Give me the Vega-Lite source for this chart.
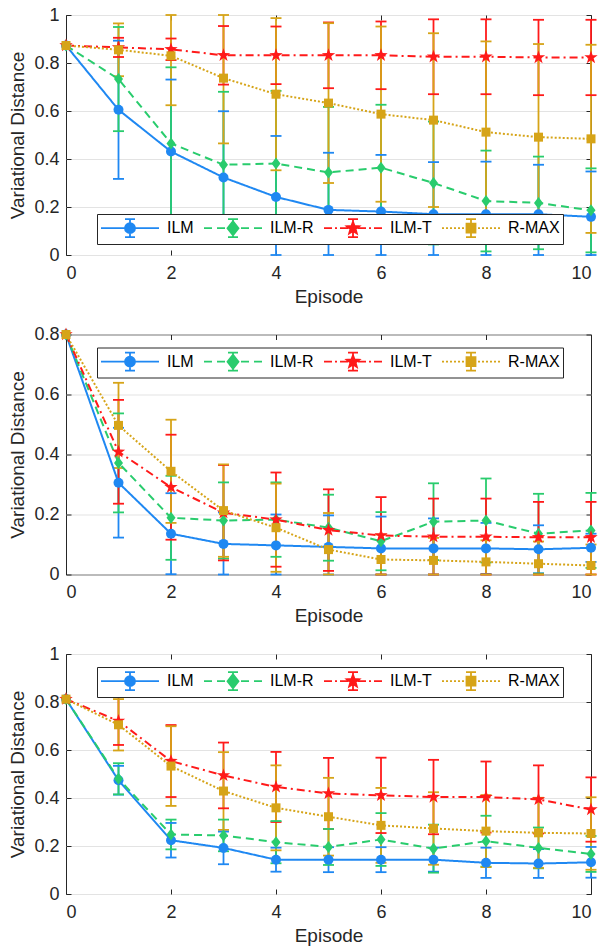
{
"$schema": "https://vega.github.io/schema/vega-lite/v6.json",
"datasets": {
"p1": [
{"s":"ILM","ep":0,"m":0.873,"lo":null,"hi":null},{"s":"ILM","ep":1,"m":0.605,"lo":0.317,"hi":0.893},{"s":"ILM","ep":2,"m":0.431,"lo":0.131,"hi":0.731},{"s":"ILM","ep":3,"m":0.323,"lo":0.047,"hi":0.599},{"s":"ILM","ep":4,"m":0.242,"lo":0,"hi":0.496},{"s":"ILM","ep":5,"m":0.188,"lo":0,"hi":0.426},{"s":"ILM","ep":6,"m":0.181,"lo":0,"hi":0.417},{"s":"ILM","ep":7,"m":0.17,"lo":0,"hi":0.387},{"s":"ILM","ep":8,"m":0.17,"lo":0,"hi":0.389},{"s":"ILM","ep":9,"m":0.17,"lo":0,"hi":0.376},{"s":"ILM","ep":10,"m":0.159,"lo":0,"hi":0.348},
{"s":"ILM-R","ep":0,"m":0.873,"lo":null,"hi":null},{"s":"ILM-R","ep":1,"m":0.733,"lo":0.516,"hi":0.95},{"s":"ILM-R","ep":2,"m":0.465,"lo":0.148,"hi":0.782},{"s":"ILM-R","ep":3,"m":0.376,"lo":0.072,"hi":0.68},{"s":"ILM-R","ep":4,"m":0.381,"lo":0.078,"hi":0.684},{"s":"ILM-R","ep":5,"m":0.344,"lo":0.071,"hi":0.617},{"s":"ILM-R","ep":6,"m":0.364,"lo":0.102,"hi":0.626},{"s":"ILM-R","ep":7,"m":0.3,"lo":0.044,"hi":0.556},{"s":"ILM-R","ep":8,"m":0.225,"lo":0.015,"hi":0.435},{"s":"ILM-R","ep":9,"m":0.217,"lo":0.024,"hi":0.41},{"s":"ILM-R","ep":10,"m":0.186,"lo":0.011,"hi":0.361},
{"s":"ILM-T","ep":0,"m":0.873,"lo":null,"hi":null},{"s":"ILM-T","ep":1,"m":0.865,"lo":0.825,"hi":0.905},{"s":"ILM-T","ep":2,"m":0.857,"lo":0.812,"hi":0.902},{"s":"ILM-T","ep":3,"m":0.832,"lo":0.71,"hi":0.954},{"s":"ILM-T","ep":4,"m":0.832,"lo":0.712,"hi":0.952},{"s":"ILM-T","ep":5,"m":0.832,"lo":0.695,"hi":0.969},{"s":"ILM-T","ep":6,"m":0.832,"lo":0.691,"hi":0.973},{"s":"ILM-T","ep":7,"m":0.826,"lo":0.67,"hi":0.982},{"s":"ILM-T","ep":8,"m":0.826,"lo":0.67,"hi":0.982},{"s":"ILM-T","ep":9,"m":0.823,"lo":0.666,"hi":0.98},{"s":"ILM-T","ep":10,"m":0.823,"lo":0.666,"hi":0.98},
{"s":"R-MAX","ep":0,"m":0.873,"lo":null,"hi":null},{"s":"R-MAX","ep":1,"m":0.855,"lo":0.745,"hi":0.965},{"s":"R-MAX","ep":2,"m":0.83,"lo":0.624,"hi":1.0},{"s":"R-MAX","ep":3,"m":0.737,"lo":0.465,"hi":1.0},{"s":"R-MAX","ep":4,"m":0.67,"lo":0.353,"hi":0.987},{"s":"R-MAX","ep":5,"m":0.633,"lo":0.3,"hi":0.966},{"s":"R-MAX","ep":6,"m":0.587,"lo":0.222,"hi":0.952},{"s":"R-MAX","ep":7,"m":0.562,"lo":0.2,"hi":0.924},{"s":"R-MAX","ep":8,"m":0.512,"lo":0.134,"hi":0.89},{"s":"R-MAX","ep":9,"m":0.491,"lo":0.103,"hi":0.879},{"s":"R-MAX","ep":10,"m":0.484,"lo":0.092,"hi":0.876}
],
"p2": [
{"s":"ILM","ep":0,"m":0.8,"lo":null,"hi":null},{"s":"ILM","ep":1,"m":0.306,"lo":0.123,"hi":0.489},{"s":"ILM","ep":2,"m":0.136,"lo":0.001,"hi":0.271},{"s":"ILM","ep":3,"m":0.102,"lo":0,"hi":0.207},{"s":"ILM","ep":4,"m":0.097,"lo":0,"hi":0.2},{"s":"ILM","ep":5,"m":0.092,"lo":0,"hi":0.197},{"s":"ILM","ep":6,"m":0.087,"lo":0,"hi":0.193},{"s":"ILM","ep":7,"m":0.087,"lo":0,"hi":0.187},{"s":"ILM","ep":8,"m":0.087,"lo":0.002,"hi":0.172},{"s":"ILM","ep":9,"m":0.084,"lo":0.004,"hi":0.164},{"s":"ILM","ep":10,"m":0.089,"lo":0.042,"hi":0.136},
{"s":"ILM-R","ep":0,"m":0.8,"lo":null,"hi":null},{"s":"ILM-R","ep":1,"m":0.372,"lo":0.207,"hi":0.537},{"s":"ILM-R","ep":2,"m":0.189,"lo":0.049,"hi":0.329},{"s":"ILM-R","ep":3,"m":0.18,"lo":0.053,"hi":0.307},{"s":"ILM-R","ep":4,"m":0.183,"lo":0.059,"hi":0.307},{"s":"ILM-R","ep":5,"m":0.156,"lo":0.046,"hi":0.266},{"s":"ILM-R","ep":6,"m":0.111,"lo":0.014,"hi":0.208},{"s":"ILM-R","ep":7,"m":0.176,"lo":0.048,"hi":0.304},{"s":"ILM-R","ep":8,"m":0.18,"lo":0.04,"hi":0.32},{"s":"ILM-R","ep":9,"m":0.136,"lo":0.003,"hi":0.269},{"s":"ILM-R","ep":10,"m":0.147,"lo":0.022,"hi":0.272},
{"s":"ILM-T","ep":0,"m":0.8,"lo":null,"hi":null},{"s":"ILM-T","ep":1,"m":0.409,"lo":0.236,"hi":0.582},{"s":"ILM-T","ep":2,"m":0.291,"lo":0.116,"hi":0.466},{"s":"ILM-T","ep":3,"m":0.206,"lo":0.047,"hi":0.365},{"s":"ILM-T","ep":4,"m":0.183,"lo":0.026,"hi":0.34},{"s":"ILM-T","ep":5,"m":0.148,"lo":0.012,"hi":0.284},{"s":"ILM-T","ep":6,"m":0.13,"lo":0,"hi":0.258},{"s":"ILM-T","ep":7,"m":0.126,"lo":0,"hi":0.253},{"s":"ILM-T","ep":8,"m":0.126,"lo":0,"hi":0.253},{"s":"ILM-T","ep":9,"m":0.124,"lo":0,"hi":0.242},{"s":"ILM-T","ep":10,"m":0.124,"lo":0,"hi":0.242},
{"s":"R-MAX","ep":0,"m":0.8,"lo":null,"hi":null},{"s":"R-MAX","ep":1,"m":0.497,"lo":0.355,"hi":0.639},{"s":"R-MAX","ep":2,"m":0.344,"lo":0.172,"hi":0.516},{"s":"R-MAX","ep":3,"m":0.213,"lo":0.059,"hi":0.367},{"s":"R-MAX","ep":4,"m":0.156,"lo":0.009,"hi":0.303},{"s":"R-MAX","ep":5,"m":0.083,"lo":0,"hi":0.205},{"s":"R-MAX","ep":6,"m":0.05,"lo":0,"hi":0.133},{"s":"R-MAX","ep":7,"m":0.047,"lo":0,"hi":0.122},{"s":"R-MAX","ep":8,"m":0.042,"lo":0,"hi":0.114},{"s":"R-MAX","ep":9,"m":0.036,"lo":0,"hi":0.11},{"s":"R-MAX","ep":10,"m":0.03,"lo":0,"hi":0.1}
],
"p3": [
{"s":"ILM","ep":0,"m":0.812,"lo":null,"hi":null},{"s":"ILM","ep":1,"m":0.474,"lo":0.414,"hi":0.534},{"s":"ILM","ep":2,"m":0.224,"lo":0.152,"hi":0.296},{"s":"ILM","ep":3,"m":0.192,"lo":0.124,"hi":0.26},{"s":"ILM","ep":4,"m":0.143,"lo":0.093,"hi":0.193},{"s":"ILM","ep":5,"m":0.143,"lo":0.091,"hi":0.195},{"s":"ILM","ep":6,"m":0.143,"lo":0.091,"hi":0.195},{"s":"ILM","ep":7,"m":0.143,"lo":0.093,"hi":0.193},{"s":"ILM","ep":8,"m":0.13,"lo":0.067,"hi":0.193},{"s":"ILM","ep":9,"m":0.127,"lo":0.067,"hi":0.187},{"s":"ILM","ep":10,"m":0.132,"lo":0.068,"hi":0.196},
{"s":"ILM-R","ep":0,"m":0.812,"lo":null,"hi":null},{"s":"ILM-R","ep":1,"m":0.48,"lo":0.415,"hi":0.545},{"s":"ILM-R","ep":2,"m":0.248,"lo":0.186,"hi":0.31},{"s":"ILM-R","ep":3,"m":0.244,"lo":0.178,"hi":0.31},{"s":"ILM-R","ep":4,"m":0.216,"lo":0.128,"hi":0.304},{"s":"ILM-R","ep":5,"m":0.196,"lo":0.121,"hi":0.271},{"s":"ILM-R","ep":6,"m":0.227,"lo":0.117,"hi":0.337},{"s":"ILM-R","ep":7,"m":0.189,"lo":0.089,"hi":0.289},{"s":"ILM-R","ep":8,"m":0.22,"lo":0.114,"hi":0.326},{"s":"ILM-R","ep":9,"m":0.192,"lo":0.107,"hi":0.277},{"s":"ILM-R","ep":10,"m":0.167,"lo":0.092,"hi":0.242},
{"s":"ILM-T","ep":0,"m":0.812,"lo":null,"hi":null},{"s":"ILM-T","ep":1,"m":0.721,"lo":0.621,"hi":0.821},{"s":"ILM-T","ep":2,"m":0.554,"lo":0.404,"hi":0.704},{"s":"ILM-T","ep":3,"m":0.494,"lo":0.357,"hi":0.631},{"s":"ILM-T","ep":4,"m":0.446,"lo":0.3,"hi":0.592},{"s":"ILM-T","ep":5,"m":0.419,"lo":0.271,"hi":0.567},{"s":"ILM-T","ep":6,"m":0.411,"lo":0.254,"hi":0.568},{"s":"ILM-T","ep":7,"m":0.404,"lo":0.249,"hi":0.559},{"s":"ILM-T","ep":8,"m":0.404,"lo":0.256,"hi":0.552},{"s":"ILM-T","ep":9,"m":0.394,"lo":0.252,"hi":0.536},{"s":"ILM-T","ep":10,"m":0.352,"lo":0.218,"hi":0.486},
{"s":"R-MAX","ep":0,"m":0.812,"lo":null,"hi":null},{"s":"R-MAX","ep":1,"m":0.705,"lo":0.598,"hi":0.812},{"s":"R-MAX","ep":2,"m":0.533,"lo":0.367,"hi":0.699},{"s":"R-MAX","ep":3,"m":0.429,"lo":0.267,"hi":0.591},{"s":"R-MAX","ep":4,"m":0.359,"lo":0.182,"hi":0.536},{"s":"R-MAX","ep":5,"m":0.322,"lo":0.16,"hi":0.484},{"s":"R-MAX","ep":6,"m":0.286,"lo":0.13,"hi":0.442},{"s":"R-MAX","ep":7,"m":0.273,"lo":0.122,"hi":0.424},{"s":"R-MAX","ep":8,"m":0.262,"lo":0.112,"hi":0.412},{"s":"R-MAX","ep":9,"m":0.255,"lo":0.109,"hi":0.401},{"s":"R-MAX","ep":10,"m":0.252,"lo":0.101,"hi":0.403}
]
},
"padding": {"left": 8, "top": 5, "right": 2, "bottom": 2},
"spacing": 79.5,
"bounds": "flush",
"resolve": {
 "scale": {"color": "independent", "fill": "independent", "stroke": "independent", "shape": "independent", "strokeDash": "independent"},
 "legend": {"color": "independent", "fill": "independent", "stroke": "independent", "shape": "independent", "strokeDash": "independent"}
},
"vconcat": [
{
"data": {"name": "p1"},
"width": 525, "height": 240,
"layer": [
{"mark": {"type": "rule", "strokeWidth": 1.8},
 "encoding": {
  "x": {"field": "ep", "type": "quantitative", "scale": {"domain": [0, 10], "nice": false}, "axis": {"orient": "bottom", "values": [0, 2, 4, 6, 8, 10], "title": "Episode", "grid": false}},
  "y": {"field": "lo", "type": "quantitative", "scale": {"domain": [0, 1], "nice": false, "zero": false}, "axis": {"orient": "left", "values": [0, 0.2, 0.4, 0.6, 0.8, 1], "format": "~g", "title": "Variational Distance", "grid": true}},
  "y2": {"field": "hi"},
  "color": {"field": "s", "type": "nominal", "scale": {"domain": ["ILM", "ILM-R", "ILM-T", "R-MAX"], "range": ["#1f88f2", "#29cc6d", "#ff1a1a", "#d6a418"]}, "legend": null}}},
{"mark": {"type": "tick", "orient": "horizontal", "size": 11, "thickness": 1.8, "opacity": 1},
 "encoding": {"x": {"field": "ep", "type": "quantitative", "axis": null}, "y": {"field": "lo", "type": "quantitative", "axis": null}, "color": {"field": "s", "type": "nominal", "legend": null}}},
{"mark": {"type": "tick", "orient": "horizontal", "size": 11, "thickness": 1.8, "opacity": 1},
 "encoding": {"x": {"field": "ep", "type": "quantitative", "axis": null}, "y": {"field": "hi", "type": "quantitative", "axis": null}, "color": {"field": "s", "type": "nominal", "legend": null}}},
{"mark": {"type": "line", "strokeWidth": 2},
 "encoding": {
  "x": {"field": "ep", "type": "quantitative", "axis": {"orient": "top", "values": [0, 2, 4, 6, 8, 10], "labels": false, "title": null, "grid": false}},
  "y": {"field": "m", "type": "quantitative", "axis": {"orient": "right", "values": [0, 0.2, 0.4, 0.6, 0.8, 1], "labels": false, "title": null, "grid": false}},
  "color": {"field": "s", "type": "nominal", "legend": null},
  "strokeDash": {"field": "s", "type": "nominal", "scale": {"domain": ["ILM", "ILM-R", "ILM-T", "R-MAX"], "range": [[1, 0], [8, 5], [8, 4, 2, 4], [2, 2]]}, "legend": null}}},
{"transform": [{"filter": {"field": "s", "equal": "ILM"}}],
 "mark": {"type": "point", "shape": "circle", "filled": true, "size": 100, "opacity": 1},
 "encoding": {"x": {"field": "ep", "type": "quantitative", "axis": null}, "y": {"field": "m", "type": "quantitative", "axis": null}, "color": {"field": "s", "type": "nominal", "legend": null}}},
{"transform": [{"filter": {"field": "s", "equal": "ILM-R"}}],
 "mark": {"type": "point", "shape": "M0,-1L0.75,0L0,1L-0.75,0Z", "filled": true, "size": 144, "opacity": 1},
 "encoding": {"x": {"field": "ep", "type": "quantitative", "axis": null}, "y": {"field": "m", "type": "quantitative", "axis": null}, "color": {"field": "s", "type": "nominal", "legend": null}}},
{"transform": [{"filter": {"field": "s", "equal": "ILM-T"}}],
 "mark": {"type": "point", "shape": "M0,-1L0.235,-0.324L0.951,-0.309L0.38,0.124L0.588,0.809L0,0.4L-0.588,0.809L-0.38,0.124L-0.951,-0.309L-0.235,-0.324Z", "filled": true, "size": 196, "opacity": 1},
 "encoding": {"x": {"field": "ep", "type": "quantitative", "axis": null}, "y": {"field": "m", "type": "quantitative", "axis": null}, "color": {"field": "s", "type": "nominal", "legend": null}}},
{"transform": [{"filter": {"field": "s", "equal": "R-MAX"}}],
 "mark": {"type": "point", "shape": "square", "filled": true, "size": 81, "opacity": 1},
 "encoding": {"x": {"field": "ep", "type": "quantitative", "axis": null}, "y": {"field": "m", "type": "quantitative", "axis": null}, "color": {"field": "s", "type": "nominal", "legend": null}}},
{"mark": {"type": "point", "filled": true, "opacity": 0},
 "encoding": {"x": {"field": "ep", "type": "quantitative", "axis": null}, "y": {"field": "m", "type": "quantitative", "axis": null},
  "fill": {"field": "s", "type": "nominal", "scale": {"range": ["#1f88f2", "#29cc6d", "#ff1a1a", "#d6a418"]}, "legend": {"orient": "none", "legendX": 31, "legendY": 199, "direction": "horizontal", "title": null}},
  "stroke": {"field": "s", "type": "nominal", "scale": {"range": ["#1f88f2", "#29cc6d", "#ff1a1a", "#d6a418"]}, "legend": {"orient": "none", "legendX": 31, "legendY": 199, "direction": "horizontal", "title": null}},
  "shape": {"field": "s", "type": "nominal", "scale": {"range": ["M-2.9,0H2.9M0,-0.9V0.9M-0.5,-0.9H0.5M-0.5,0.9H0.5M0.5,0A0.5,0.5,0,1,1,-0.5,0A0.5,0.5,0,1,1,0.5,0Z", "M-2.9,0H-2.1M-1.6,0H-0.8M0.8,0H1.6M2.1,0H2.9M0,-0.9V0.9M-0.5,-0.9H0.5M-0.5,0.9H0.5M0,-0.7L0.55,0L0,0.7L-0.55,0Z", "M-2.9,0H-2.1M-1.8,0H-1.6M-1.3,0H-0.5M0.5,0H1.3M1.6,0H1.8M2.1,0H2.9M0,-0.9V0.9M-0.5,-0.9H0.5M-0.5,0.9H0.5M0,-0.65L0.159,-0.218L0.618,-0.201L0.257,0.083L0.382,0.526L0,0.27L-0.382,0.526L-0.257,0.083L-0.618,-0.201L-0.159,-0.218Z", "M-2.9,0h0.2M-2.5,0h0.2M-2.1,0h0.2M-1.7,0h0.2M-1.3,0h0.2M-0.9,0h0.2M0.7,0h0.2M1.1,0h0.2M1.5,0h0.2M1.9,0h0.2M2.3,0h0.2M2.7,0h0.2M0,-0.9V0.9M-0.5,-0.9H0.5M-0.5,0.9H0.5M-0.45,-0.45H0.45V0.45H-0.45Z"]}, "legend": {"orient": "none", "legendX": 31, "legendY": 199, "direction": "horizontal", "title": null}}}}
],
"resolve": {"axis": {"x": "independent", "y": "independent"}}
},
{
"data": {"name": "p2"},
"width": 525, "height": 240,
"layer": [
{"mark": {"type": "rule", "strokeWidth": 1.8},
 "encoding": {
  "x": {"field": "ep", "type": "quantitative", "scale": {"domain": [0, 10], "nice": false}, "axis": {"orient": "bottom", "values": [0, 2, 4, 6, 8, 10], "title": "Episode", "grid": false}},
  "y": {"field": "lo", "type": "quantitative", "scale": {"domain": [0, 0.8], "nice": false, "zero": false}, "axis": {"orient": "left", "values": [0, 0.2, 0.4, 0.6, 0.8], "format": "~g", "title": "Variational Distance", "grid": true}},
  "y2": {"field": "hi"},
  "color": {"field": "s", "type": "nominal", "scale": {"domain": ["ILM", "ILM-R", "ILM-T", "R-MAX"], "range": ["#1f88f2", "#29cc6d", "#ff1a1a", "#d6a418"]}, "legend": null}}},
{"mark": {"type": "tick", "orient": "horizontal", "size": 11, "thickness": 1.8, "opacity": 1},
 "encoding": {"x": {"field": "ep", "type": "quantitative", "axis": null}, "y": {"field": "lo", "type": "quantitative", "axis": null}, "color": {"field": "s", "type": "nominal", "legend": null}}},
{"mark": {"type": "tick", "orient": "horizontal", "size": 11, "thickness": 1.8, "opacity": 1},
 "encoding": {"x": {"field": "ep", "type": "quantitative", "axis": null}, "y": {"field": "hi", "type": "quantitative", "axis": null}, "color": {"field": "s", "type": "nominal", "legend": null}}},
{"mark": {"type": "line", "strokeWidth": 2},
 "encoding": {
  "x": {"field": "ep", "type": "quantitative", "axis": {"orient": "top", "values": [0, 2, 4, 6, 8, 10], "labels": false, "title": null, "grid": false}},
  "y": {"field": "m", "type": "quantitative", "axis": {"orient": "right", "values": [0, 0.2, 0.4, 0.6, 0.8], "labels": false, "title": null, "grid": false}},
  "color": {"field": "s", "type": "nominal", "legend": null},
  "strokeDash": {"field": "s", "type": "nominal", "scale": {"domain": ["ILM", "ILM-R", "ILM-T", "R-MAX"], "range": [[1, 0], [8, 5], [8, 4, 2, 4], [2, 2]]}, "legend": null}}},
{"transform": [{"filter": {"field": "s", "equal": "ILM"}}],
 "mark": {"type": "point", "shape": "circle", "filled": true, "size": 100, "opacity": 1},
 "encoding": {"x": {"field": "ep", "type": "quantitative", "axis": null}, "y": {"field": "m", "type": "quantitative", "axis": null}, "color": {"field": "s", "type": "nominal", "legend": null}}},
{"transform": [{"filter": {"field": "s", "equal": "ILM-R"}}],
 "mark": {"type": "point", "shape": "M0,-1L0.75,0L0,1L-0.75,0Z", "filled": true, "size": 144, "opacity": 1},
 "encoding": {"x": {"field": "ep", "type": "quantitative", "axis": null}, "y": {"field": "m", "type": "quantitative", "axis": null}, "color": {"field": "s", "type": "nominal", "legend": null}}},
{"transform": [{"filter": {"field": "s", "equal": "ILM-T"}}],
 "mark": {"type": "point", "shape": "M0,-1L0.235,-0.324L0.951,-0.309L0.38,0.124L0.588,0.809L0,0.4L-0.588,0.809L-0.38,0.124L-0.951,-0.309L-0.235,-0.324Z", "filled": true, "size": 196, "opacity": 1},
 "encoding": {"x": {"field": "ep", "type": "quantitative", "axis": null}, "y": {"field": "m", "type": "quantitative", "axis": null}, "color": {"field": "s", "type": "nominal", "legend": null}}},
{"transform": [{"filter": {"field": "s", "equal": "R-MAX"}}],
 "mark": {"type": "point", "shape": "square", "filled": true, "size": 81, "opacity": 1},
 "encoding": {"x": {"field": "ep", "type": "quantitative", "axis": null}, "y": {"field": "m", "type": "quantitative", "axis": null}, "color": {"field": "s", "type": "nominal", "legend": null}}},
{"mark": {"type": "point", "filled": true, "opacity": 0},
 "encoding": {"x": {"field": "ep", "type": "quantitative", "axis": null}, "y": {"field": "m", "type": "quantitative", "axis": null},
  "fill": {"field": "s", "type": "nominal", "scale": {"range": ["#1f88f2", "#29cc6d", "#ff1a1a", "#d6a418"]}, "legend": {"orient": "none", "legendX": 31, "legendY": 13, "direction": "horizontal", "title": null}},
  "stroke": {"field": "s", "type": "nominal", "scale": {"range": ["#1f88f2", "#29cc6d", "#ff1a1a", "#d6a418"]}, "legend": {"orient": "none", "legendX": 31, "legendY": 13, "direction": "horizontal", "title": null}},
  "shape": {"field": "s", "type": "nominal", "scale": {"range": ["M-2.9,0H2.9M0,-0.9V0.9M-0.5,-0.9H0.5M-0.5,0.9H0.5M0.5,0A0.5,0.5,0,1,1,-0.5,0A0.5,0.5,0,1,1,0.5,0Z", "M-2.9,0H-2.1M-1.6,0H-0.8M0.8,0H1.6M2.1,0H2.9M0,-0.9V0.9M-0.5,-0.9H0.5M-0.5,0.9H0.5M0,-0.7L0.55,0L0,0.7L-0.55,0Z", "M-2.9,0H-2.1M-1.8,0H-1.6M-1.3,0H-0.5M0.5,0H1.3M1.6,0H1.8M2.1,0H2.9M0,-0.9V0.9M-0.5,-0.9H0.5M-0.5,0.9H0.5M0,-0.65L0.159,-0.218L0.618,-0.201L0.257,0.083L0.382,0.526L0,0.27L-0.382,0.526L-0.257,0.083L-0.618,-0.201L-0.159,-0.218Z", "M-2.9,0h0.2M-2.5,0h0.2M-2.1,0h0.2M-1.7,0h0.2M-1.3,0h0.2M-0.9,0h0.2M0.7,0h0.2M1.1,0h0.2M1.5,0h0.2M1.9,0h0.2M2.3,0h0.2M2.7,0h0.2M0,-0.9V0.9M-0.5,-0.9H0.5M-0.5,0.9H0.5M-0.45,-0.45H0.45V0.45H-0.45Z"]}, "legend": {"orient": "none", "legendX": 31, "legendY": 13, "direction": "horizontal", "title": null}}}}
],
"resolve": {"axis": {"x": "independent", "y": "independent"}}
},
{
"data": {"name": "p3"},
"width": 525, "height": 240,
"layer": [
{"mark": {"type": "rule", "strokeWidth": 1.8},
 "encoding": {
  "x": {"field": "ep", "type": "quantitative", "scale": {"domain": [0, 10], "nice": false}, "axis": {"orient": "bottom", "values": [0, 2, 4, 6, 8, 10], "title": "Episode", "grid": false}},
  "y": {"field": "lo", "type": "quantitative", "scale": {"domain": [0, 1], "nice": false, "zero": false}, "axis": {"orient": "left", "values": [0, 0.2, 0.4, 0.6, 0.8, 1], "format": "~g", "title": "Variational Distance", "grid": true}},
  "y2": {"field": "hi"},
  "color": {"field": "s", "type": "nominal", "scale": {"domain": ["ILM", "ILM-R", "ILM-T", "R-MAX"], "range": ["#1f88f2", "#29cc6d", "#ff1a1a", "#d6a418"]}, "legend": null}}},
{"mark": {"type": "tick", "orient": "horizontal", "size": 11, "thickness": 1.8, "opacity": 1},
 "encoding": {"x": {"field": "ep", "type": "quantitative", "axis": null}, "y": {"field": "lo", "type": "quantitative", "axis": null}, "color": {"field": "s", "type": "nominal", "legend": null}}},
{"mark": {"type": "tick", "orient": "horizontal", "size": 11, "thickness": 1.8, "opacity": 1},
 "encoding": {"x": {"field": "ep", "type": "quantitative", "axis": null}, "y": {"field": "hi", "type": "quantitative", "axis": null}, "color": {"field": "s", "type": "nominal", "legend": null}}},
{"mark": {"type": "line", "strokeWidth": 2},
 "encoding": {
  "x": {"field": "ep", "type": "quantitative", "axis": {"orient": "top", "values": [0, 2, 4, 6, 8, 10], "labels": false, "title": null, "grid": false}},
  "y": {"field": "m", "type": "quantitative", "axis": {"orient": "right", "values": [0, 0.2, 0.4, 0.6, 0.8, 1], "labels": false, "title": null, "grid": false}},
  "color": {"field": "s", "type": "nominal", "legend": null},
  "strokeDash": {"field": "s", "type": "nominal", "scale": {"domain": ["ILM", "ILM-R", "ILM-T", "R-MAX"], "range": [[1, 0], [8, 5], [8, 4, 2, 4], [2, 2]]}, "legend": null}}},
{"transform": [{"filter": {"field": "s", "equal": "ILM"}}],
 "mark": {"type": "point", "shape": "circle", "filled": true, "size": 100, "opacity": 1},
 "encoding": {"x": {"field": "ep", "type": "quantitative", "axis": null}, "y": {"field": "m", "type": "quantitative", "axis": null}, "color": {"field": "s", "type": "nominal", "legend": null}}},
{"transform": [{"filter": {"field": "s", "equal": "ILM-R"}}],
 "mark": {"type": "point", "shape": "M0,-1L0.75,0L0,1L-0.75,0Z", "filled": true, "size": 144, "opacity": 1},
 "encoding": {"x": {"field": "ep", "type": "quantitative", "axis": null}, "y": {"field": "m", "type": "quantitative", "axis": null}, "color": {"field": "s", "type": "nominal", "legend": null}}},
{"transform": [{"filter": {"field": "s", "equal": "ILM-T"}}],
 "mark": {"type": "point", "shape": "M0,-1L0.235,-0.324L0.951,-0.309L0.38,0.124L0.588,0.809L0,0.4L-0.588,0.809L-0.38,0.124L-0.951,-0.309L-0.235,-0.324Z", "filled": true, "size": 196, "opacity": 1},
 "encoding": {"x": {"field": "ep", "type": "quantitative", "axis": null}, "y": {"field": "m", "type": "quantitative", "axis": null}, "color": {"field": "s", "type": "nominal", "legend": null}}},
{"transform": [{"filter": {"field": "s", "equal": "R-MAX"}}],
 "mark": {"type": "point", "shape": "square", "filled": true, "size": 81, "opacity": 1},
 "encoding": {"x": {"field": "ep", "type": "quantitative", "axis": null}, "y": {"field": "m", "type": "quantitative", "axis": null}, "color": {"field": "s", "type": "nominal", "legend": null}}},
{"mark": {"type": "point", "filled": true, "opacity": 0},
 "encoding": {"x": {"field": "ep", "type": "quantitative", "axis": null}, "y": {"field": "m", "type": "quantitative", "axis": null},
  "fill": {"field": "s", "type": "nominal", "scale": {"range": ["#1f88f2", "#29cc6d", "#ff1a1a", "#d6a418"]}, "legend": {"orient": "none", "legendX": 31, "legendY": 13, "direction": "horizontal", "title": null}},
  "stroke": {"field": "s", "type": "nominal", "scale": {"range": ["#1f88f2", "#29cc6d", "#ff1a1a", "#d6a418"]}, "legend": {"orient": "none", "legendX": 31, "legendY": 13, "direction": "horizontal", "title": null}},
  "shape": {"field": "s", "type": "nominal", "scale": {"range": ["M-2.9,0H2.9M0,-0.9V0.9M-0.5,-0.9H0.5M-0.5,0.9H0.5M0.5,0A0.5,0.5,0,1,1,-0.5,0A0.5,0.5,0,1,1,0.5,0Z", "M-2.9,0H-2.1M-1.6,0H-0.8M0.8,0H1.6M2.1,0H2.9M0,-0.9V0.9M-0.5,-0.9H0.5M-0.5,0.9H0.5M0,-0.7L0.55,0L0,0.7L-0.55,0Z", "M-2.9,0H-2.1M-1.8,0H-1.6M-1.3,0H-0.5M0.5,0H1.3M1.6,0H1.8M2.1,0H2.9M0,-0.9V0.9M-0.5,-0.9H0.5M-0.5,0.9H0.5M0,-0.65L0.159,-0.218L0.618,-0.201L0.257,0.083L0.382,0.526L0,0.27L-0.382,0.526L-0.257,0.083L-0.618,-0.201L-0.159,-0.218Z", "M-2.9,0h0.2M-2.5,0h0.2M-2.1,0h0.2M-1.7,0h0.2M-1.3,0h0.2M-0.9,0h0.2M0.7,0h0.2M1.1,0h0.2M1.5,0h0.2M1.9,0h0.2M2.3,0h0.2M2.7,0h0.2M0,-0.9V0.9M-0.5,-0.9H0.5M-0.5,0.9H0.5M-0.45,-0.45H0.45V0.45H-0.45Z"]}, "legend": {"orient": "none", "legendX": 31, "legendY": 13, "direction": "horizontal", "title": null}}}}
],
"resolve": {"axis": {"x": "independent", "y": "independent"}}
}
],
"config": {
 "font": "Liberation Sans",
 "view": {"stroke": "#262626", "strokeWidth": 1},
 "axis": {"labelFontSize": 18, "titleFontSize": 19, "titleFontWeight": "normal", "labelColor": "#262626", "titleColor": "#262626", "tickColor": "#262626", "tickSize": -5, "tickWidth": 1, "domain": false, "gridColor": "#e3e3e3", "gridWidth": 1},
 "axisX": {"labelPadding": 14, "titlePadding": 5},
 "axisY": {"labelPadding": 12, "titlePadding": 6},
 "legend": {"symbolSize": 400, "symbolStrokeWidth": 1.8, "symbolOpacity": 1, "symbolOffset": 19, "labelOffset": 26, "labelFontSize": 16, "labelColor": "#000000", "padding": 3, "columnPadding": 6, "strokeColor": "#262626", "fillColor": "#ffffff", "cornerRadius": 0}
}
}
